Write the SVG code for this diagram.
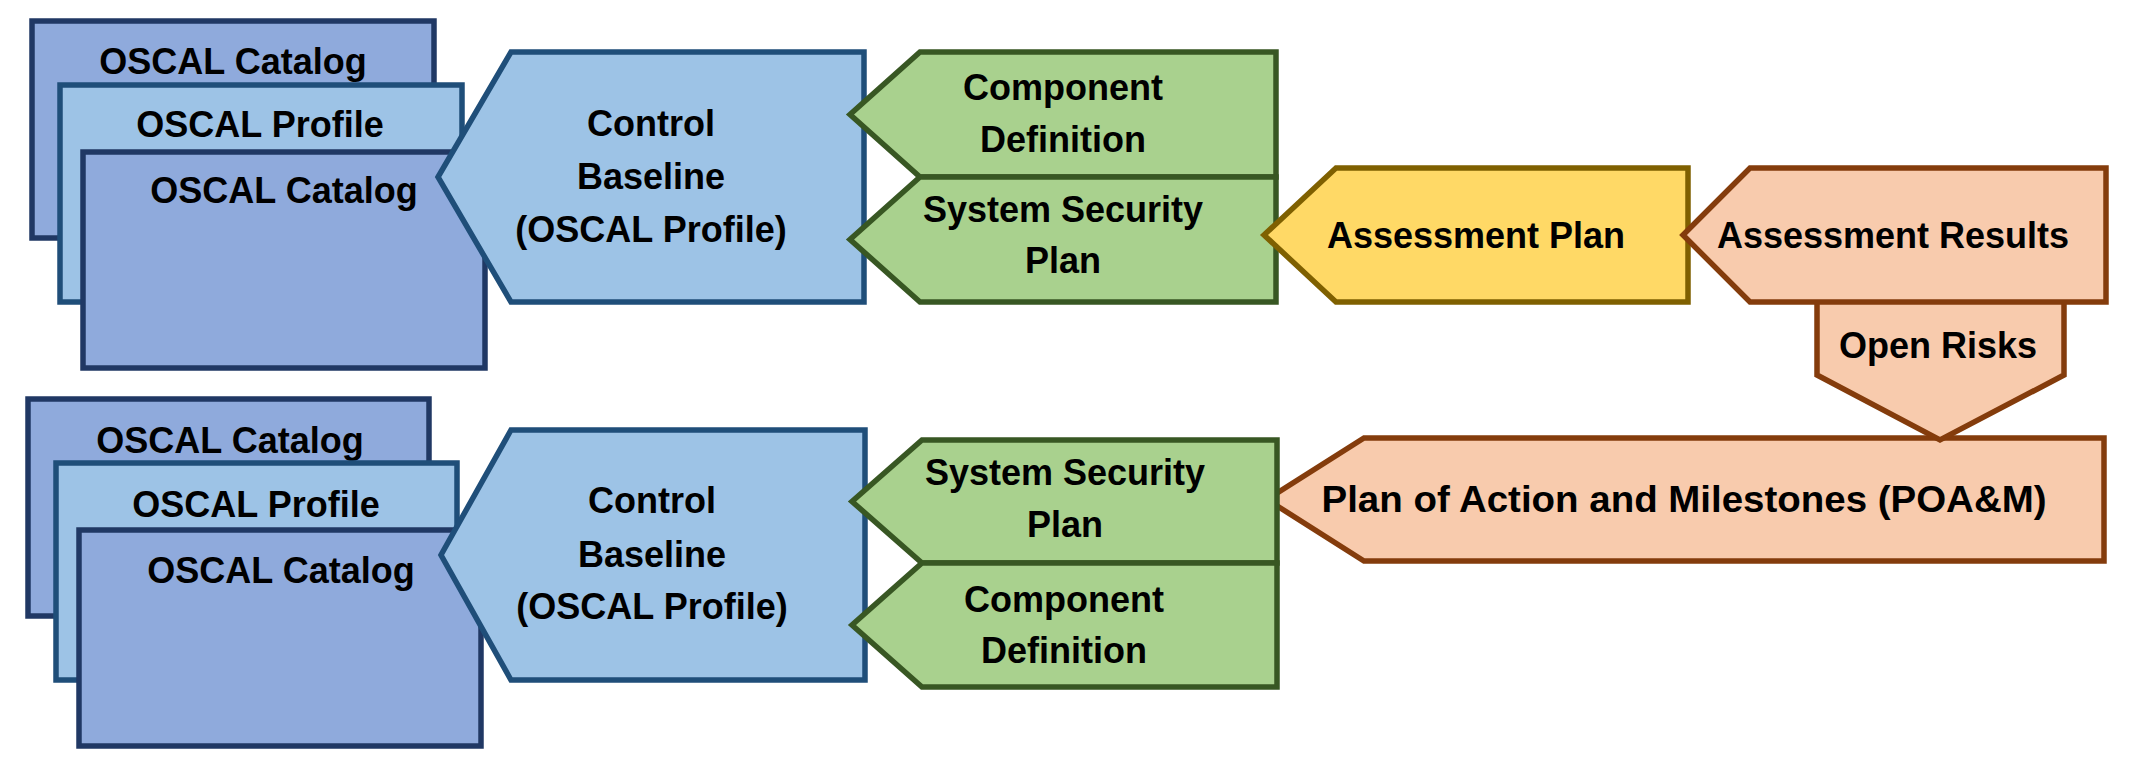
<svg xmlns="http://www.w3.org/2000/svg" width="2129" height="773" viewBox="0 0 2129 773">
<style>
text{font-family:"Liberation Sans",Arial,sans-serif;font-weight:bold;font-size:36px;fill:#000;text-anchor:middle}
.cat{fill:#8FAADC;stroke:#203864;stroke-width:5.5}
.pro{fill:#9DC3E6;stroke:#1F4E79;stroke-width:5.5}
.base{fill:#9DC3E6;stroke:#1F4E79;stroke-width:5.5;stroke-linejoin:miter}
.grn{fill:#A9D18E;stroke:#385723;stroke-width:5.5;stroke-linejoin:miter}
.yel{fill:#FFD966;stroke:#7F6000;stroke-width:5.5;stroke-linejoin:miter}
.sal{fill:#F8CBAD;stroke:#843C0C;stroke-width:5.5;stroke-linejoin:miter}
</style>
<rect width="2129" height="773" fill="#fff"/>
<g id="top-catalog-back"><rect class="cat" x="32" y="21" width="402" height="217"/><text x="233" y="74">OSCAL Catalog</text></g>
<g id="top-profile"><rect class="pro" x="60" y="85" width="402" height="217"/><text x="260" y="137">OSCAL Profile</text></g>
<g id="top-catalog-front"><rect class="cat" x="83" y="152" width="402" height="216"/><text x="284" y="203">OSCAL Catalog</text></g>
<g id="top-control-baseline"><polygon class="base" points="511,52 864,52 864,302 511,302 438,177"/><text x="651" y="136">Control</text><text x="651" y="189">Baseline</text><text x="651" y="242">(OSCAL Profile)</text></g>
<g id="top-component-definition"><polygon class="grn" points="920,52 1276,52 1276,177 920,177 850,114.5"/><text x="1063" y="100">Component</text><text x="1063" y="152">Definition</text></g>
<g id="top-ssp"><polygon class="grn" points="920,177 1276,177 1276,302 920,302 850,239.5"/><text x="1063" y="222">System Security</text><text x="1063" y="273">Plan</text></g>
<g id="assessment-plan"><polygon class="yel" points="1336,168 1688,168 1688,302 1336,302 1264,235"/><text x="1476" y="248">Assessment Plan</text></g>
<g id="poam"><polygon class="sal" points="1364,438 2104,438 2104,561 1364,561 1267,499.5"/><text x="1684" y="512" textLength="725" lengthAdjust="spacingAndGlyphs">Plan of Action and Milestones (POA&amp;M)</text></g>
<g id="open-risks"><polygon class="sal" points="1817,300 2064,300 2064,375 1940,440 1817,375"/><text x="1938" y="358">Open Risks</text></g>
<g id="assessment-results"><polygon class="sal" points="1750,168 2106,168 2106,302 1750,302 1683,235"/><text x="1893" y="248">Assessment Results</text></g>
<g id="bottom-catalog-back"><rect class="cat" x="28" y="399" width="401" height="217"/><text x="230" y="453">OSCAL Catalog</text></g>
<g id="bottom-profile"><rect class="pro" x="56" y="463" width="401" height="217"/><text x="256" y="517">OSCAL Profile</text></g>
<g id="bottom-catalog-front"><rect class="cat" x="79" y="530" width="402" height="216"/><text x="281" y="583">OSCAL Catalog</text></g>
<g id="bottom-control-baseline"><polygon class="base" points="511,430 865,430 865,680 511,680 441,555"/><text x="652" y="513">Control</text><text x="652" y="567">Baseline</text><text x="652" y="619">(OSCAL Profile)</text></g>
<g id="bottom-ssp"><polygon class="grn" points="922,440 1277,440 1277,563 922,563 852,501.5"/><text x="1065" y="485">System Security</text><text x="1065" y="537">Plan</text></g>
<g id="bottom-component-definition"><polygon class="grn" points="922,563 1277,563 1277,687 922,687 852,625"/><text x="1064" y="612">Component</text><text x="1064" y="663">Definition</text></g>
<g id="connectors"></g>
</svg>
